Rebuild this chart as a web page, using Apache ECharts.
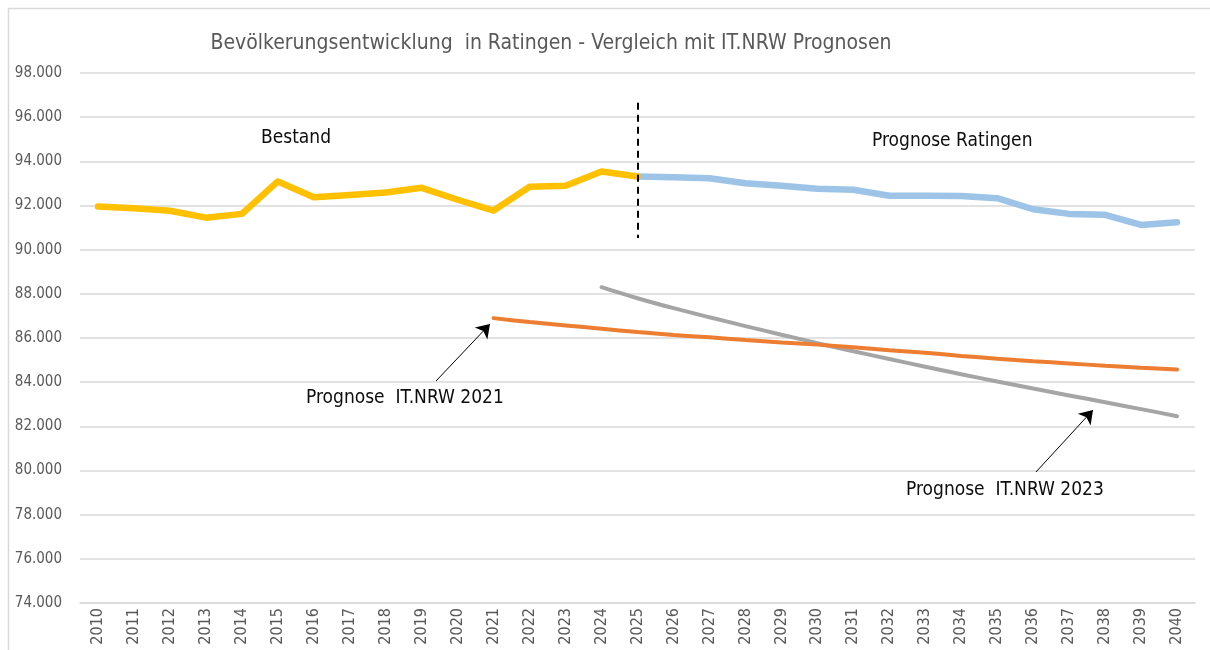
<!DOCTYPE html>
<html>
<head>
<meta charset="utf-8">
<script src="https://cdn.jsdelivr.net/npm/echarts@6/dist/echarts.min.js"></script>
<style>
  html, body { margin: 0; padding: 0; background: #fff; }
  #chart { width: 1210px; height: 650px; }
</style>
</head>
<body>
<div id="chart"></div>
<script>
const FONT = "'Liberation Sans Narrow', 'Arial Narrow', 'DejaVu Sans Condensed', sans-serif"

const years = [
  "2010", "2011", "2012", "2013", "2014", "2015", "2016", "2017", "2018", "2019", "2020",
  "2021", "2022", "2023", "2024", "2025", "2026", "2027", "2028", "2029", "2030",
  "2031", "2032", "2033", "2034", "2035", "2036", "2037", "2038", "2039", "2040"
]

// Bestand 2010-2025
const bestand = [
  91950, 91880, 91760, 91450, 91620, 93090, 92370, 92480, 92590, 92800, 92260,
  91770, 92850, 92890, 93540, 93310
]
// Prognose Ratingen 2025-2040
const prognoseRatingen = [
  93310, 93280, 93230, 93010, 92890, 92760, 92710, 92440, 92440, 92430, 92330,
  91830, 91620, 91580, 91120, 91240
]
// IT.NRW 2021: 2021-2040
const nrw2021 = [
  86900, 86720, 86570, 86420, 86270, 86140, 86030, 85910, 85800, 85700,
  85580, 85450, 85330, 85190, 85060, 84950, 84850, 84740, 84650, 84570
]
// IT.NRW 2023: 2024-2040
const nrw2023 = [
  88300, 87800, 87350, 86940, 86540, 86150, 85770, 85400, 85050,
  84700, 84360, 84030, 83710, 83400, 83090, 82780, 82460
]

const yMin = 74000
const yMax = 98000
const yStep = 2000

// pad a partial series so it lines up with the year axis
function place(startYear, values) {
  const out = years.map(() => null)
  const start = years.indexOf(startYear)
  values.forEach((v, i) => { out[start + i] = v })
  return out
}

const chart = echarts.init(document.getElementById("chart"), null, { renderer: "canvas" })

chart.setOption({
  animation: false,
  title: {
    text: "Bevölkerungsentwicklung  in Ratingen - Vergleich mit IT.NRW Prognosen",
    left: 546,
    top: 28,
    textAlign: "center",
    textStyle: { fontFamily: FONT, fontSize: 21, fontWeight: "normal", color: "#595959" }
  },
  grid: { left: 80, right: 15, top: 73, bottom: 47, containLabel: false },
  xAxis: {
    type: "category",
    data: years,
    boundaryGap: true,
    axisLine: { show: true, lineStyle: { color: "#d9d9d9", width: 1.5 } },
    axisTick: { show: false },
    axisLabel: { rotate: 90, margin: 5, color: "#595959", fontFamily: FONT, fontSize: 16 }
  },
  yAxis: {
    type: "value",
    min: yMin,
    max: yMax,
    interval: yStep,
    axisLine: { show: false },
    axisTick: { show: false },
    axisLabel: {
      margin: 18,
      color: "#595959",
      fontFamily: FONT,
      fontSize: 15,
      formatter: v => (v / 1000).toFixed(3)
    },
    splitLine: { lineStyle: { color: "#d9d9d9", width: 1.5 } }
  },
  series: [
    {
      name: "Bestand",
      type: "line",
      data: place("2010", bestand),
      showSymbol: false,
      z: 4,
      lineStyle: { color: "#ffc000", width: 6.5, cap: "round", join: "round" },
      markLine: {
        silent: true,
        symbol: "none",
        label: { show: false },
        lineStyle: { color: "#000", type: [7, 5], width: 2 },
        data: [[{ coord: ["2025", 96650] }, { coord: ["2025", 90530] }]]
      }
    },
    {
      name: "Prognose Ratingen",
      type: "line",
      data: place("2025", prognoseRatingen),
      showSymbol: false,
      z: 3,
      lineStyle: { color: "#9dc3e6", width: 6.5, cap: "round", join: "round" }
    },
    {
      name: "Prognose IT.NRW 2021",
      type: "line",
      data: place("2021", nrw2021),
      showSymbol: false,
      smooth: 0.3,
      z: 3,
      lineStyle: { color: "#ed7d31", width: 4, cap: "round" },
      markLine: {
        silent: true,
        symbol: ["none", "arrow"],
        symbolSize: 13,
        label: { show: false },
        lineStyle: { color: "#000", type: "solid", width: 1 },
        data: [[{ x: 436, y: 381 }, { x: 490, y: 324 }]]
      }
    },
    {
      name: "Prognose IT.NRW 2023",
      type: "line",
      data: place("2024", nrw2023),
      showSymbol: false,
      smooth: 0.3,
      z: 2,
      lineStyle: { color: "#a5a5a5", width: 4, cap: "round" },
      markLine: {
        silent: true,
        symbol: ["none", "arrow"],
        symbolSize: 13,
        label: { show: false },
        lineStyle: { color: "#000", type: "solid", width: 1 },
        data: [[{ x: 1036, y: 472 }, { x: 1093, y: 410 }]]
      }
    }
  ],
  graphic: [
    {
      type: "rect",
      silent: true,
      shape: { x: 8.5, y: 8.5, width: 1300, height: 700 },
      style: { fill: null, stroke: "#d9d9d9", lineWidth: 1.5 }
    },
    { type: "text", left: 261, top: 129, style: { text: "Bestand", font: "19px " + FONT, fill: "#0d0d0d" } },
    { type: "text", left: 872, top: 132, style: { text: "Prognose Ratingen", font: "19px " + FONT, fill: "#0d0d0d" } },
    { type: "text", left: 306, top: 389, style: { text: "Prognose  IT.NRW 2021", font: "19px " + FONT, fill: "#0d0d0d" } },
    { type: "text", left: 906, top: 481, style: { text: "Prognose  IT.NRW 2023", font: "19px " + FONT, fill: "#0d0d0d" } }
  ]
})
</script>
</body>
</html>
